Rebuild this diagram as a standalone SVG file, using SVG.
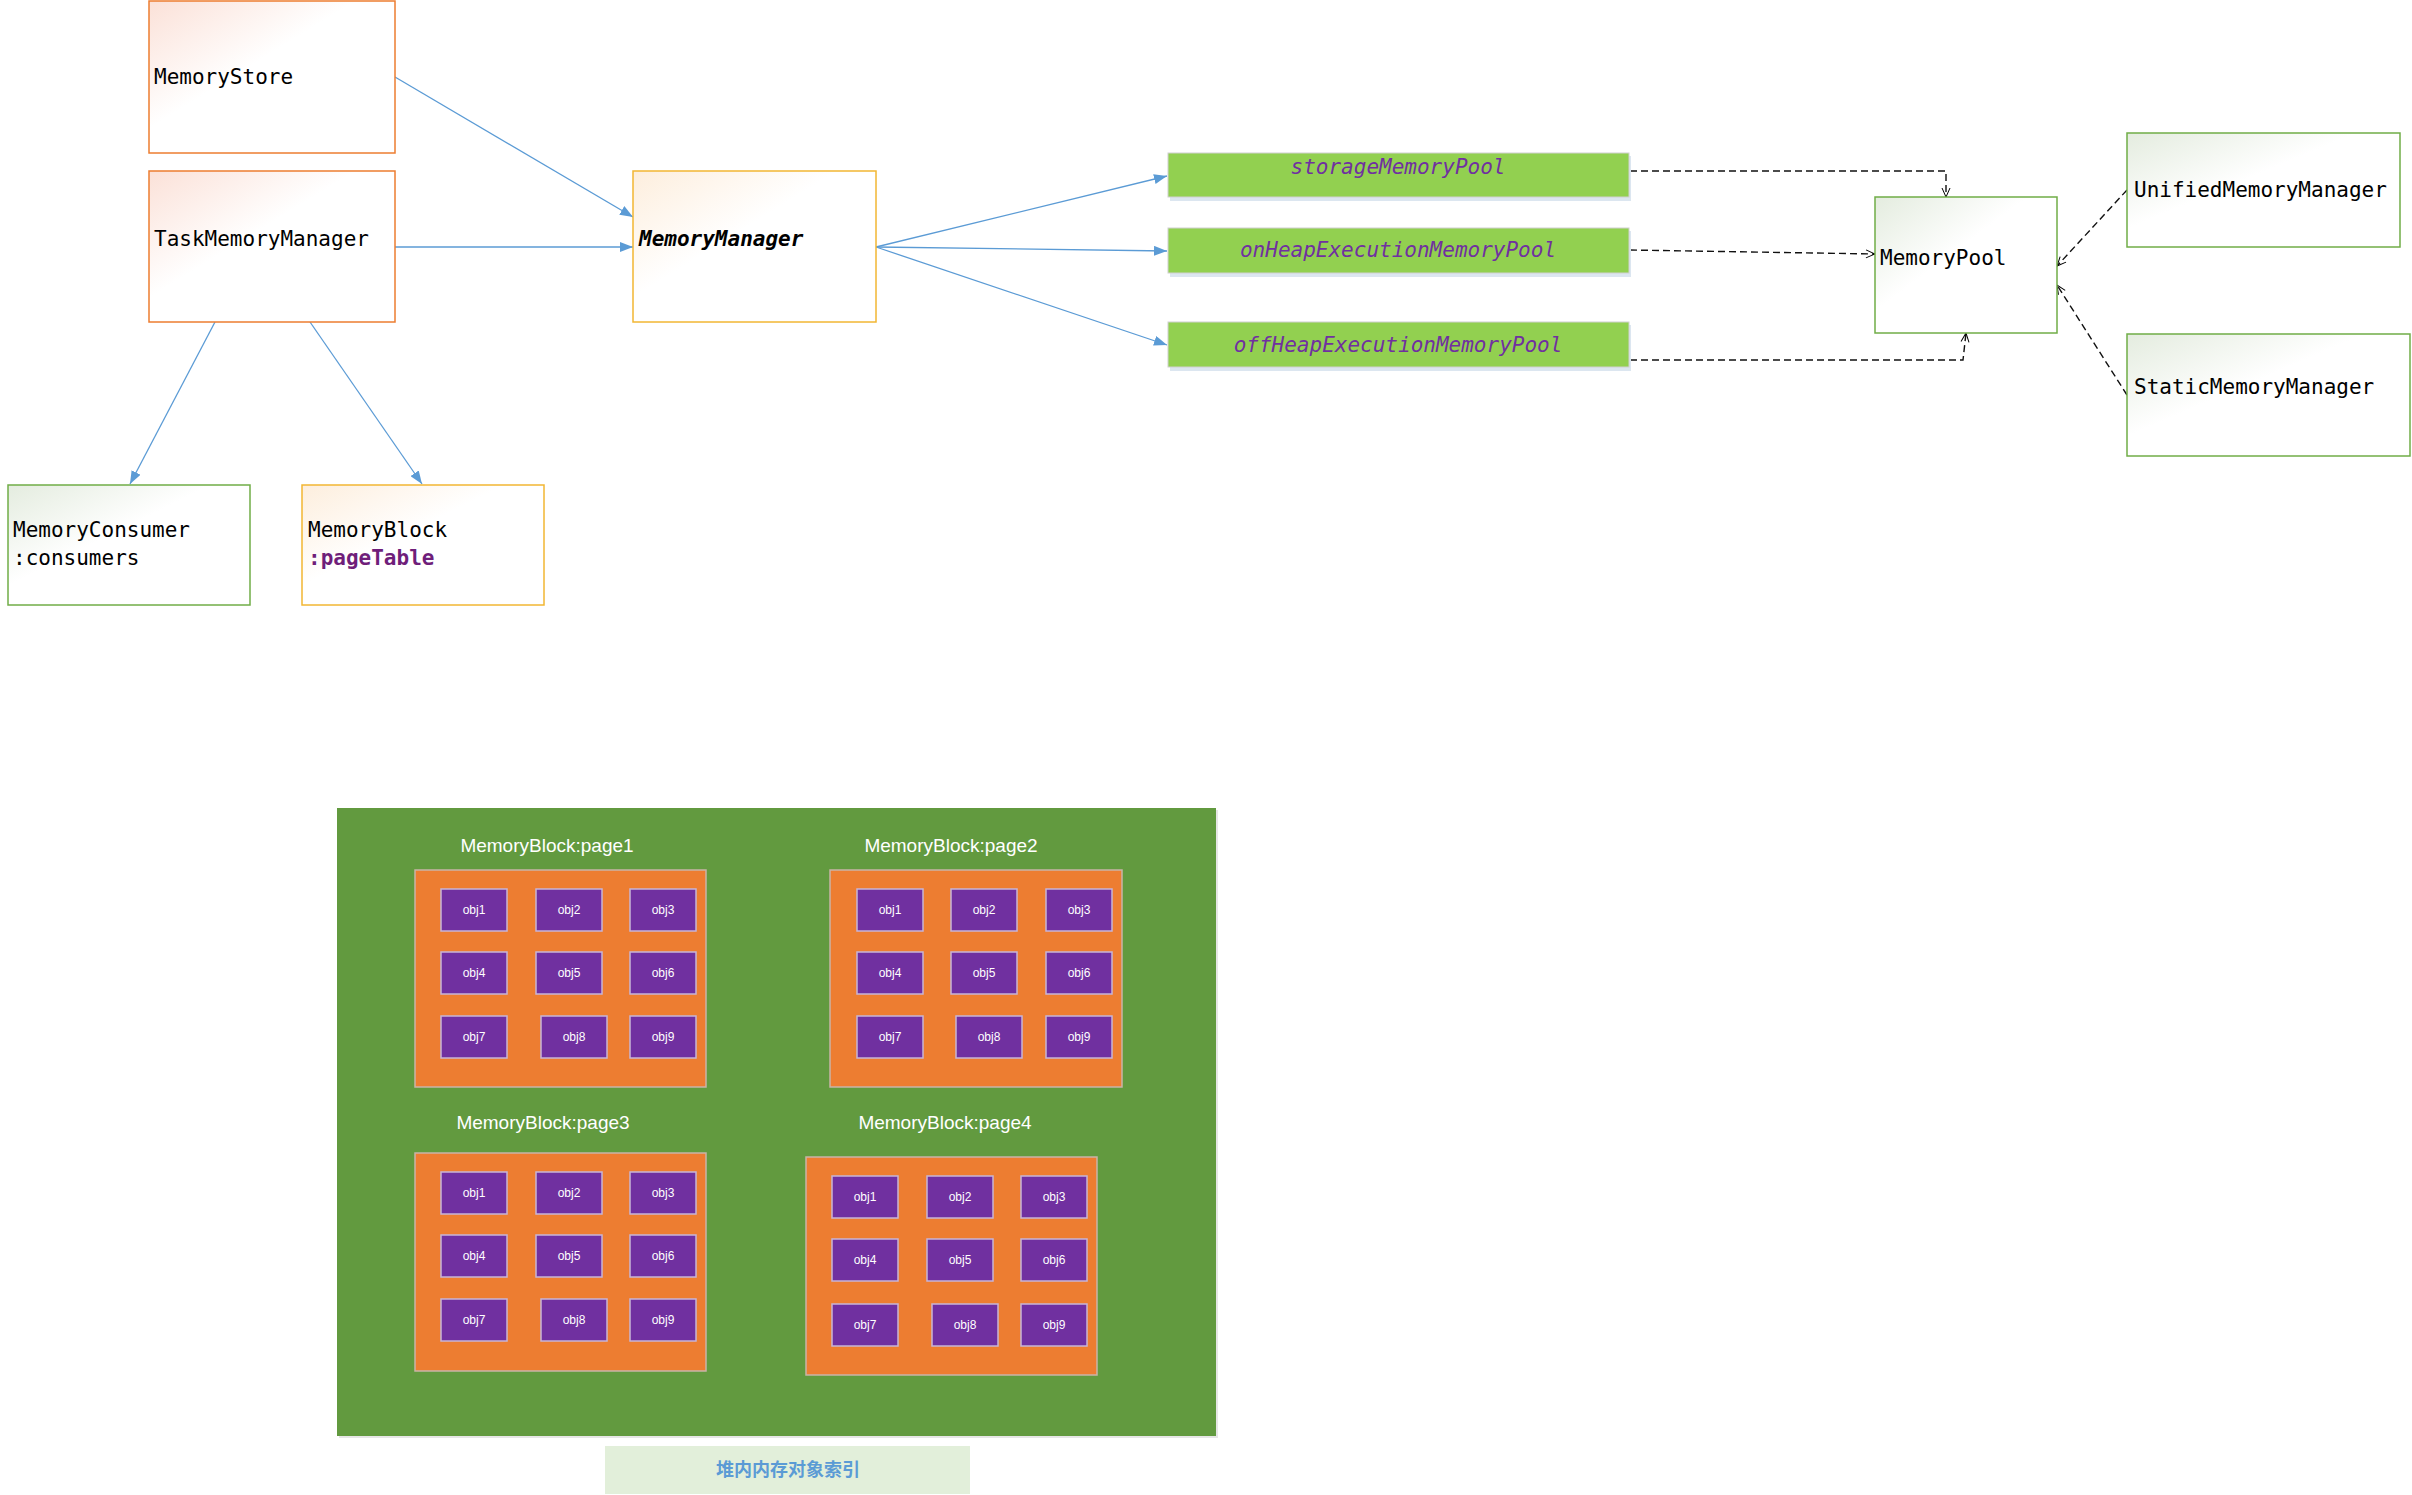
<svg xmlns="http://www.w3.org/2000/svg" width="2412" height="1495" viewBox="0 0 2412 1495">
<defs>
<linearGradient id="gPink" x1="0" y1="0" x2="0.7" y2="0.7">
<stop offset="0" stop-color="#FBE1D8"/><stop offset="0.6" stop-color="#FFFFFF"/><stop offset="1" stop-color="#FFFFFF"/>
</linearGradient>
<linearGradient id="gGold" x1="0" y1="0" x2="0.7" y2="0.7">
<stop offset="0" stop-color="#FDEEDD"/><stop offset="0.6" stop-color="#FFFFFF"/><stop offset="1" stop-color="#FFFFFF"/>
</linearGradient>
<linearGradient id="gGreen" x1="0" y1="0" x2="0.7" y2="0.7">
<stop offset="0" stop-color="#E4ECDF"/><stop offset="0.6" stop-color="#FFFFFF"/><stop offset="1" stop-color="#FFFFFF"/>
</linearGradient>
<marker id="blueArrow" markerUnits="userSpaceOnUse" markerWidth="14" markerHeight="10" refX="13" refY="5" orient="auto">
<path d="M0,0 L13,5 L0,10 z" fill="#5B9BD5"/>
</marker>
<marker id="openArrow" markerUnits="userSpaceOnUse" markerWidth="11" markerHeight="10" refX="10" refY="5" orient="auto">
<path d="M1,1 L10,5 L1,9" fill="none" stroke="#000" stroke-width="1"/>
</marker>
</defs>
<style>
.mono{font-family:"DejaVu Sans Mono","Liberation Mono",monospace;font-size:21px;fill:#000}
.attr{font-weight:bold;fill:#6F1E7A}
.abstract{font-weight:bold;font-style:italic}
.pinkBox{fill:url(#gPink);stroke:#ED7D31;stroke-width:1.5}
.goldBox{fill:url(#gGold);stroke:#F2B733;stroke-width:1.5}
.greenBox{fill:url(#gGreen);stroke:#70AD47;stroke-width:1.5}
.bar{fill:#92D050;stroke:#D0D0D0;stroke-width:1}
.barShadow{fill:#DCE6F0}
.barText{font-family:"DejaVu Sans Mono","Liberation Mono",monospace;font-size:21px;font-style:italic;fill:#7030A0;text-anchor:middle}
.blue{fill:none;stroke:#5B9BD5;stroke-width:1.3;marker-end:url(#blueArrow)}
.dash{fill:none;stroke:#111;stroke-width:1.4;stroke-dasharray:7 4;marker-end:url(#openArrow)}
.orange{fill:#ED7D31;stroke:#C9B4A8;stroke-width:1.5}
.obj{fill:#7030A0;stroke:#C7B5D6;stroke-width:1.5}
.objText{font-family:"Liberation Sans",Arial,sans-serif;font-size:12px;fill:#FFFFFF;text-anchor:middle}
.pageText{font-family:"Liberation Sans",Arial,sans-serif;font-size:19px;fill:#FFFFFF;text-anchor:middle}
</style>
<rect width="2412" height="1495" fill="#FFFFFF"/>

<g id="connectors">
<path class="blue" d="M395,77 L633,217"/>
<path class="blue" d="M395,247 L633,247"/>
<path class="blue" d="M215,322 L130,484"/>
<path class="blue" d="M310,322 L422,484"/>
<path class="blue" d="M876,247 L1167,176"/>
<path class="blue" d="M876,247 L1167,251"/>
<path class="blue" d="M876,247 L1167,345"/>
<path class="dash" d="M1630,171 H1946 V197"/>
<path class="dash" d="M1630,250 L1875,254"/>
<path class="dash" d="M1630,360 H1963 L1966,333"/>
<path class="dash" d="M2127,190 L2057,266"/>
<path class="dash" d="M2127,395 L2057,285"/>
</g>

<g id="MemoryStore">
<rect class="pinkBox" x="149" y="1" width="246" height="152"/>
<text class="mono" x="154" y="84">MemoryStore</text>
</g>
<g id="TaskMemoryManager">
<rect class="pinkBox" x="149" y="171" width="246" height="151"/>
<text class="mono" x="154" y="246">TaskMemoryManager</text>
</g>
<g id="MemoryManager">
<rect class="goldBox" x="633" y="171" width="243" height="151"/>
<text class="mono abstract" x="639" y="246">MemoryManager</text>
</g>
<g id="MemoryConsumer">
<rect class="greenBox" x="8" y="485" width="242" height="120"/>
<text class="mono" x="13" y="537">MemoryConsumer</text>
<text class="mono" x="13" y="565">:consumers</text>
</g>
<g id="MemoryBlock">
<rect class="goldBox" x="302" y="485" width="242" height="120"/>
<text class="mono" x="308" y="537">MemoryBlock</text>
<text class="mono attr" x="308" y="565">:pageTable</text>
</g>
<g id="storageMemoryPool">
<rect class="barShadow" x="1170" y="156" width="461" height="45"/>
<rect class="bar" x="1168" y="153" width="461" height="44"/>
<text class="barText" x="1398" y="174">storageMemoryPool</text>
</g>
<g id="onHeapExecutionMemoryPool">
<rect class="barShadow" x="1170" y="231" width="461" height="46"/>
<rect class="bar" x="1168" y="228" width="461" height="45"/>
<text class="barText" x="1398" y="257">onHeapExecutionMemoryPool</text>
</g>
<g id="offHeapExecutionMemoryPool">
<rect class="barShadow" x="1170" y="325" width="461" height="46"/>
<rect class="bar" x="1168" y="322" width="461" height="45"/>
<text class="barText" x="1398" y="352">offHeapExecutionMemoryPool</text>
</g>
<g id="MemoryPool">
<rect class="greenBox" x="1875" y="197" width="182" height="136"/>
<text class="mono" x="1880" y="265">MemoryPool</text>
</g>
<g id="UnifiedMemoryManager">
<rect class="greenBox" x="2127" y="133" width="273" height="114"/>
<text class="mono" x="2134" y="197">UnifiedMemoryManager</text>
</g>
<g id="StaticMemoryManager">
<rect class="greenBox" x="2127" y="334" width="283" height="122"/>
<text class="mono" x="2134" y="394">StaticMemoryManager</text>
</g>

<g id="heapPanel">
<rect x="339" y="810" width="879" height="628" fill="#E6E6E6"/>
<rect x="337" y="808" width="879" height="628" fill="#629A3F"/>
</g>

<g id="page1">
<text class="pageText" x="547" y="852">MemoryBlock:page1</text>
<rect class="orange" x="415" y="870" width="291" height="217"/>
<rect class="obj" x="441" y="889" width="66" height="42"/><text class="objText" x="474" y="914">obj1</text>
<rect class="obj" x="536" y="889" width="66" height="42"/><text class="objText" x="569" y="914">obj2</text>
<rect class="obj" x="630" y="889" width="66" height="42"/><text class="objText" x="663" y="914">obj3</text>
<rect class="obj" x="441" y="952" width="66" height="42"/><text class="objText" x="474" y="977">obj4</text>
<rect class="obj" x="536" y="952" width="66" height="42"/><text class="objText" x="569" y="977">obj5</text>
<rect class="obj" x="630" y="952" width="66" height="42"/><text class="objText" x="663" y="977">obj6</text>
<rect class="obj" x="441" y="1016" width="66" height="42"/><text class="objText" x="474" y="1041">obj7</text>
<rect class="obj" x="541" y="1016" width="66" height="42"/><text class="objText" x="574" y="1041">obj8</text>
<rect class="obj" x="630" y="1016" width="66" height="42"/><text class="objText" x="663" y="1041">obj9</text>
</g>

<g id="page2">
<text class="pageText" x="951" y="852">MemoryBlock:page2</text>
<rect class="orange" x="830" y="870" width="292" height="217"/>
<rect class="obj" x="857" y="889" width="66" height="42"/><text class="objText" x="890" y="914">obj1</text>
<rect class="obj" x="951" y="889" width="66" height="42"/><text class="objText" x="984" y="914">obj2</text>
<rect class="obj" x="1046" y="889" width="66" height="42"/><text class="objText" x="1079" y="914">obj3</text>
<rect class="obj" x="857" y="952" width="66" height="42"/><text class="objText" x="890" y="977">obj4</text>
<rect class="obj" x="951" y="952" width="66" height="42"/><text class="objText" x="984" y="977">obj5</text>
<rect class="obj" x="1046" y="952" width="66" height="42"/><text class="objText" x="1079" y="977">obj6</text>
<rect class="obj" x="857" y="1016" width="66" height="42"/><text class="objText" x="890" y="1041">obj7</text>
<rect class="obj" x="956" y="1016" width="66" height="42"/><text class="objText" x="989" y="1041">obj8</text>
<rect class="obj" x="1046" y="1016" width="66" height="42"/><text class="objText" x="1079" y="1041">obj9</text>
</g>

<g id="page3">
<text class="pageText" x="543" y="1129">MemoryBlock:page3</text>
<rect class="orange" x="415" y="1153" width="291" height="218"/>
<rect class="obj" x="441" y="1172" width="66" height="42"/><text class="objText" x="474" y="1197">obj1</text>
<rect class="obj" x="536" y="1172" width="66" height="42"/><text class="objText" x="569" y="1197">obj2</text>
<rect class="obj" x="630" y="1172" width="66" height="42"/><text class="objText" x="663" y="1197">obj3</text>
<rect class="obj" x="441" y="1235" width="66" height="42"/><text class="objText" x="474" y="1260">obj4</text>
<rect class="obj" x="536" y="1235" width="66" height="42"/><text class="objText" x="569" y="1260">obj5</text>
<rect class="obj" x="630" y="1235" width="66" height="42"/><text class="objText" x="663" y="1260">obj6</text>
<rect class="obj" x="441" y="1299" width="66" height="42"/><text class="objText" x="474" y="1324">obj7</text>
<rect class="obj" x="541" y="1299" width="66" height="42"/><text class="objText" x="574" y="1324">obj8</text>
<rect class="obj" x="630" y="1299" width="66" height="42"/><text class="objText" x="663" y="1324">obj9</text>
</g>

<g id="page4">
<text class="pageText" x="945" y="1129">MemoryBlock:page4</text>
<rect class="orange" x="806" y="1157" width="291" height="218"/>
<rect class="obj" x="832" y="1176" width="66" height="42"/><text class="objText" x="865" y="1201">obj1</text>
<rect class="obj" x="927" y="1176" width="66" height="42"/><text class="objText" x="960" y="1201">obj2</text>
<rect class="obj" x="1021" y="1176" width="66" height="42"/><text class="objText" x="1054" y="1201">obj3</text>
<rect class="obj" x="832" y="1239" width="66" height="42"/><text class="objText" x="865" y="1264">obj4</text>
<rect class="obj" x="927" y="1239" width="66" height="42"/><text class="objText" x="960" y="1264">obj5</text>
<rect class="obj" x="1021" y="1239" width="66" height="42"/><text class="objText" x="1054" y="1264">obj6</text>
<rect class="obj" x="832" y="1304" width="66" height="42"/><text class="objText" x="865" y="1329">obj7</text>
<rect class="obj" x="932" y="1304" width="66" height="42"/><text class="objText" x="965" y="1329">obj8</text>
<rect class="obj" x="1021" y="1304" width="66" height="42"/><text class="objText" x="1054" y="1329">obj9</text>
</g>

<g id="caption">
<rect x="605" y="1446" width="365" height="48" fill="#E2EFDA"/>
<text x="788" y="1476" text-anchor="middle" font-family="'Noto Sans CJK SC',sans-serif" font-size="18" font-weight="bold" fill="#5B9BD5">堆内内存对象索引</text>
</g>
</svg>
